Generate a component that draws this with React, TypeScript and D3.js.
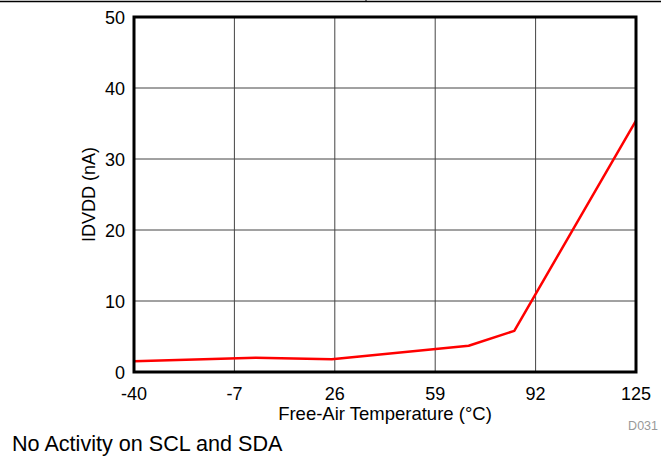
import * as React from 'react';
import { useEffect, useRef } from 'react';
import * as d3 from 'd3';

// temperature (°C) vs supply current (nA)
const temps = [-40, 0, 25, 70, 85, 125];
const current = [1.5, 2.0, 1.8, 3.7, 5.8, 35.4];

const xTicks = [-40, -7, 26, 59, 92, 125];
const yTicks = [0, 10, 20, 30, 40, 50];

const xTitle = 'Free-Air Temperature (\u00B0C)';
const yTitle = 'IDVDD (nA)';
const note = 'No Activity on SCL and SDA';
const figId = 'D031';

const W = 661, H = 460;
const font = '"Liberation Sans", Arial, sans-serif';

export default function App() {
  const ref = useRef<SVGSVGElement | null>(null);

  useEffect(() => {
    const svg = d3.select(ref.current);
    svg.selectAll('*').remove();

    const left = 134, right = 636, top = 17, bottom = 372;
    const x = d3.scaleLinear().domain([-40, 125]).range([left, right]);
    const y = d3.scaleLinear().domain([0, 50]).range([bottom, top]);

    // table border line at the very top
    svg.append('line').attr('x1', 0).attr('x2', W).attr('y1', 1.5).attr('y2', 1.5)
      .attr('stroke', '#000').attr('stroke-width', 1.5);
    svg.append('line').attr('x1', 366).attr('x2', 366).attr('y1', 0).attr('y2', 2)
      .attr('stroke', '#000').attr('stroke-width', 1);

    // grid
    svg.append('g').selectAll('line').data(xTicks.slice(1, -1)).enter().append('line')
      .attr('x1', d => x(d)).attr('x2', d => x(d)).attr('y1', top).attr('y2', bottom)
      .attr('stroke', '#444').attr('stroke-width', 1);
    svg.append('g').selectAll('line').data(yTicks.slice(1, -1)).enter().append('line')
      .attr('x1', left).attr('x2', right).attr('y1', d => y(d)).attr('y2', d => y(d))
      .attr('stroke', '#444').attr('stroke-width', 1);

    // data line
    const line = d3.line<number>().x((d, i) => x(temps[i])).y(d => y(d));
    svg.append('path').datum(current).attr('d', line)
      .attr('fill', 'none').attr('stroke', '#ff0000').attr('stroke-width', 2.5)
      .attr('stroke-linejoin', 'round');

    // frame
    svg.append('rect').attr('x', left).attr('y', top)
      .attr('width', right - left).attr('height', bottom - top)
      .attr('fill', 'none').attr('stroke', '#000').attr('stroke-width', 3);

    // tick labels
    svg.append('g').selectAll('text').data(xTicks).enter().append('text')
      .attr('x', d => x(d)).attr('y', 400).attr('text-anchor', 'middle')
      .attr('font-family', font).attr('font-size', 18).attr('fill', '#000')
      .text(d => String(d));
    svg.append('g').selectAll('text').data(yTicks).enter().append('text')
      .attr('x', 125).attr('y', d => y(d) + 6.5).attr('text-anchor', 'end')
      .attr('font-family', font).attr('font-size', 18).attr('fill', '#000')
      .text(d => String(d));

    // titles
    svg.append('text').attr('x', 385).attr('y', 420).attr('text-anchor', 'middle')
      .attr('font-family', font).attr('font-size', 18.5).attr('fill', '#000').text(xTitle);
    svg.append('text').attr('transform', `translate(95,${(top + bottom) / 2}) rotate(-90)`)
      .attr('text-anchor', 'middle')
      .attr('font-family', font).attr('font-size', 18).attr('fill', '#000').text(yTitle);

    svg.append('text').attr('x', 658).attr('y', 430).attr('text-anchor', 'end')
      .attr('font-family', font).attr('font-size', 12.5).attr('fill', '#999').text(figId);
    svg.append('text').attr('x', 12).attr('y', 451)
      .attr('font-family', font).attr('font-size', 21.6).attr('fill', '#000').text(note);
  }, []);

  return (
    <div style={{ position: 'absolute', left: 0, top: 0 }}>
      <svg ref={ref} width={W} height={H} style={{ display: 'block' }} />
    </div>
  );
}
